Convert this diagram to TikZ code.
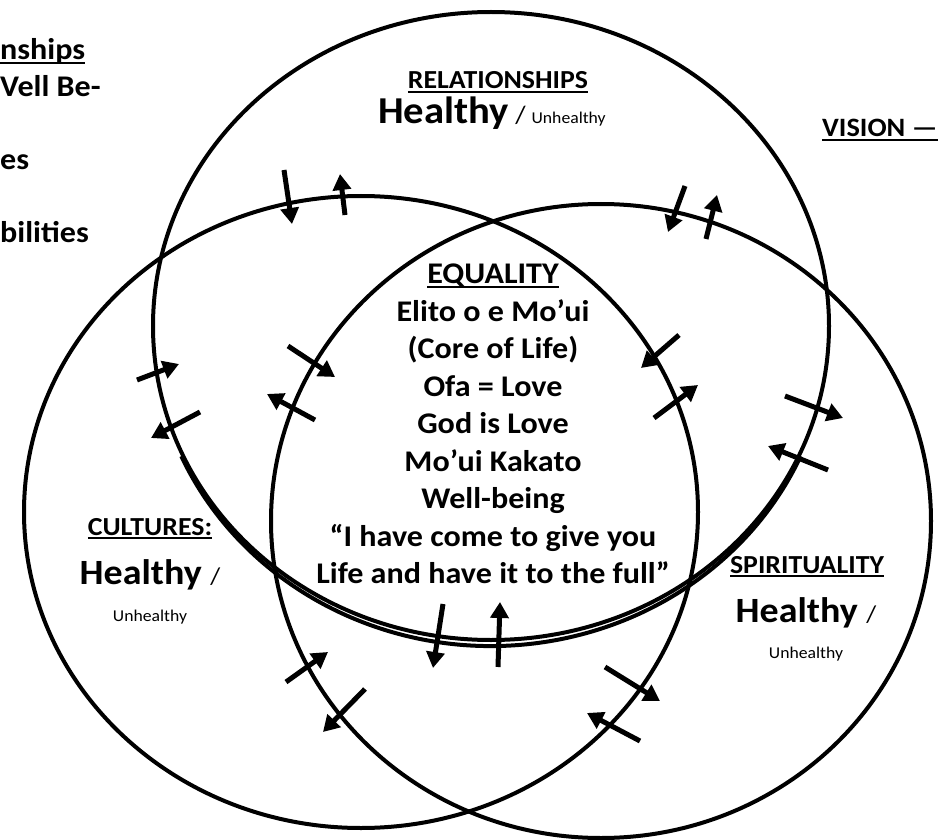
\documentclass[tikz,border=0pt]{standalone}
\usepackage{fontspec}
\setmainfont{Carlito}[FakeStretch=1.07]
\usetikzlibrary{arrows.meta}

\newcommand{\ulined}[1]{\setbox0\hbox{#1}\rlap{\rule[-4pt]{\wd0}{1.8pt}}\box0}

\tikzset{
  ring/.style={line width=4pt},
  flow/.style={line width=5pt,-{Triangle[length=16pt,width=18pt]}},
  label/.style={inner sep=0pt,font=\bfseries\fontsize{26}{30}\selectfont},
  big/.style={inner sep=0pt,font=\bfseries\fontsize{35.5}{40}\selectfont},
  small/.style={inner sep=0pt,font=\fontsize{16.5}{20}\selectfont},
  core/.style={inner sep=0pt,align=center,font=\bfseries\fontsize{30}{37.5}\selectfont},
}

\begin{document}
\begin{tikzpicture}[x=1pt,y=-1pt]
    \useasboundingbox (0,0) rectangle (938,840);
    \clip (0,0) rectangle (938,840);

    % the three circles
    \draw[ring] (491,326) ellipse [x radius=338,y radius=314];
    \draw[ring] (361,512) ellipse [x radius=337,y radius=316];
    \draw[ring] (601,521) ellipse [x radius=330,y radius=317];
    \draw[ring] (491,326) ++(24:339 and 320) arc [start angle=24,end angle=156,x radius=339,y radius=320];

    % labels
    \node[label,anchor=base] (rel) at (498,89) {\ulined{RELATIONSHIPS}};
    \node[big,anchor=base west,font=\bfseries\fontsize{38}{42}\selectfont] (relh) at (378,124) {Healthy};
    \node[small,anchor=base west] (relu) at (relh.base east) {\fontsize{25}{28}\selectfont{} / \fontsize{16.5}{20}\selectfont Unhealthy};

    \node[label,anchor=base] (cul) at (150,535) {\ulined{CULTURES:}};
    \node[big,anchor=base] (culh) at (150,584) {Healthy \fontsize{24}{28}\mdseries/};
    \node[small,anchor=base] (culu) at (150,621) {Unhealthy};

    \node[label,anchor=base] (spi) at (807,573) {\ulined{SPIRITUALITY}};
    \node[big,anchor=base] (spih) at (806,622) {Healthy \fontsize{24}{28}\mdseries/};
    \node[small,anchor=base] (spiu) at (806,658) {Unhealthy};

    \node[core,anchor=north] (equ) at (493,263.7) {\ulined{EQUALITY}\\
        Elito o e Mo’ui\\ (Core of Life)\\ Ofa = Love\\ God is Love\\
        Mo’ui Kakato\\ Well-being\\ “I have come to give you\\
        Life and have it to the full”};

    \node[label,anchor=base west,font=\bfseries\fontsize{26.5}{30}\selectfont] (vis) at (822,137) {\ulined{VISION — }};

    \node[core,anchor=base west] (side1) at (0,60) {\ulined{nships}};
    \node[core,anchor=base west] (side2) at (0,97) {Vell Be-};
    \node[core,anchor=base west] (side3) at (0,170) {es};
    \node[core,anchor=base west] (side4) at (0,243) {bilities};

    % arrows in and out
    \draw[flow] (284,170) -- (292,224);
    \draw[flow] (345,215) -- (340,174);
    \draw[flow] (685,186) -- (668,232);
    \draw[flow] (706,239) -- (717,195);
    \draw[flow] (137,380) -- (179,364);
    \draw[flow] (200,412) -- (151,438);
    \draw[flow] (288,346) -- (335,377);
    \draw[flow] (315,420) -- (267,394);
    \draw[flow] (679,335) -- (641,368);
    \draw[flow] (654,418) -- (698,385);
    \draw[flow] (785,396) -- (843,418);
    \draw[flow] (828,470) -- (768,446);
    \draw[flow] (443,604) -- (433,668);
    \draw[flow] (498,667) -- (500,602);
    \draw[flow] (286,682) -- (328,652);
    \draw[flow] (365,689) -- (323,732);
    \draw[flow] (605,667) -- (660,701);
    \draw[flow] (640,741) -- (587,713);
\end{tikzpicture}
\end{document}
